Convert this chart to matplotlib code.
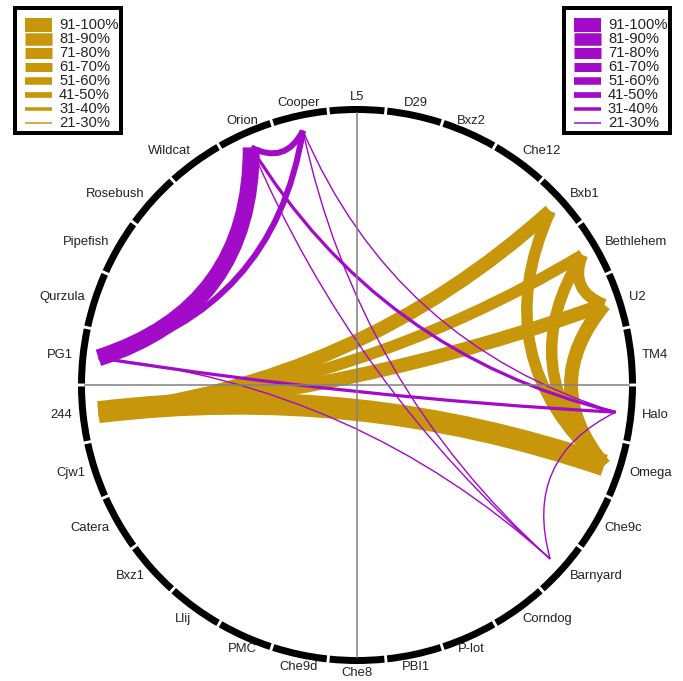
import numpy as np
import matplotlib

matplotlib.use("Agg")

import matplotlib.pyplot as plt  # noqa: E402
from matplotlib.patches import PathPatch, Rectangle, Wedge  # noqa: E402
from matplotlib.path import Path  # noqa: E402

# phage clusters around the circle, clockwise from the top
nodes = ["L5", "D29", "Bxz2", "Che12", "Bxb1", "Bethlehem", "U2", "TM4",
         "Halo", "Omega", "Che9c", "Barnyard", "Corndog", "P-lot", "PBI1",
         "Che8", "Che9d", "PMC", "Llij", "Bxz1", "Catera", "Cjw1", "244",
         "PG1", "Qurzula", "Pipefish", "Rosebush", "Wildcat", "Orion", "Cooper"]

bins = ["91-100%", "81-90%", "71-80%", "61-70%", "51-60%", "41-50%",
        "31-40%", "21-30%"]

gold_from = ["244", "244", "244", "244", "Bxb1", "Bethlehem", "U2", "Bethlehem"]
gold_to = ["Omega", "Bxb1", "Bethlehem", "U2", "Omega", "Omega", "Omega", "U2"]
gold_bin = ["91-100%", "71-80%", "61-70%", "71-80%", "61-70%", "61-70%",
            "71-80%", "61-70%"]

purple_from = ["PG1", "Orion", "Cooper", "PG1", "Orion", "Cooper", "Orion",
               "Cooper", "PG1", "Halo"]
purple_to = ["Orion", "Cooper", "PG1", "Halo", "Halo", "Halo", "Barnyard",
             "Barnyard", "Barnyard", "Barnyard"]
purple_bin = ["81-90%", "41-50%", "41-50%", "31-40%", "31-40%", "21-30%",
              "21-30%", "21-30%", "21-30%", "21-30%"]

GOLD = "#C8960A"
PURPLE = "#A20BC8"
W, H = 683, 681
CX, CY = 357, 385
R_OUT, R_BAND, R_END = 279, 7, 260
# line width (px) used for each bin in the chart and in the legend boxes
chart_px = [22, 17, 14, 11.5, 9, 6, 3.2, 1.4]
legend_px = [14, 12.5, 11, 9, 7.5, 5.7, 3.5, 1.5]
PT = 0.72


def ang(name):
    return np.deg2rad(90 - 12 * nodes.index(name))


def px(x, y):
    return x - CX, CY - y


def chord(ax, a, b, lw, color, z):
    a1, a2 = ang(a), ang(b)
    diff = (a2 - a1 + np.pi) % (2 * np.pi) - np.pi
    mid = a1 + diff / 2
    # control point pulled in more for far-apart nodes
    f = np.interp(np.rad2deg(abs(diff)), [0, 12, 60, 144, 180],
                  [1.0, 0.89, 0.5, 0.0, -0.05])
    c = R_END * f
    pts = [(R_END * np.cos(a1), R_END * np.sin(a1)),
           (c * np.cos(mid), c * np.sin(mid)),
           (R_END * np.cos(a2), R_END * np.sin(a2))]
    path = Path(pts, [Path.MOVETO, Path.CURVE3, Path.CURVE3])
    ax.add_patch(PathPatch(path, fill=False, edgecolor=color, lw=lw * PT,
                           capstyle="butt", joinstyle="miter", zorder=z))


def legend(ax, left, color):
    x0, y0 = px(left + 2, 133)
    ax.add_patch(Rectangle((x0, y0), 106, 125, fill=False, edgecolor="black",
                           lw=4 * PT, zorder=5))
    for i, lab in enumerate(bins):
        yy = 25 + 14 * i
        xa, ya = px(left + 12, yy)
        xb, _ = px(left + 39, yy)
        ax.plot([xa, xb], [ya, ya], color=color, lw=legend_px[i] * PT,
                solid_capstyle="butt", zorder=6)
        xt, yt = px(left + 46, yy)
        ax.text(xt, yt, lab, fontsize=10.6, ha="left", va="center",
                family="Liberation Sans", color="#222222", zorder=7)


fig = plt.figure(figsize=(W / 100, H / 100), dpi=100)
ax = fig.add_axes([0, 0, 1, 1])
ax.set_xlim(-CX, W - CX)
ax.set_ylim(-(H - CY), CY)
ax.axis("off")

# circle segments and labels
for k, name in enumerate(nodes):
    mid = 90 - 12 * k
    ax.add_patch(Wedge((0, 0), R_OUT, mid - 5.7, mid + 5.7, width=R_BAND,
                       facecolor="black", edgecolor="none", zorder=3))
    t = np.deg2rad(mid)
    cs, sn = np.cos(t), np.sin(t)
    ha = "left" if cs > 0.45 else ("right" if cs < -0.45 else "center")
    va = "center" if abs(sn) < 0.75 else ("bottom" if sn > 0 else "top")
    rr = R_OUT + (7 if va == "center" else 3)
    ax.text(rr * cs, rr * sn, name, fontsize=9.4, ha=ha, va=va,
            family="Liberation Sans", color="#222222")

for a, b, lab in zip(gold_from, gold_to, gold_bin):
    chord(ax, a, b, chart_px[bins.index(lab)], GOLD, 1)
for a, b, lab in zip(purple_from, purple_to, purple_bin):
    chord(ax, a, b, chart_px[bins.index(lab)], PURPLE, 2)

# cross hair
r_in = R_OUT - R_BAND
ax.plot([0, 0], [-r_in, r_in], color="#808080", lw=1.1, zorder=4)
ax.plot([-r_in, r_in], [0, 0], color="#808080", lw=1.1, zorder=4)

legend(ax, 13, GOLD)
legend(ax, 562, PURPLE)

fig.savefig("out.png", dpi=100, facecolor="white")
